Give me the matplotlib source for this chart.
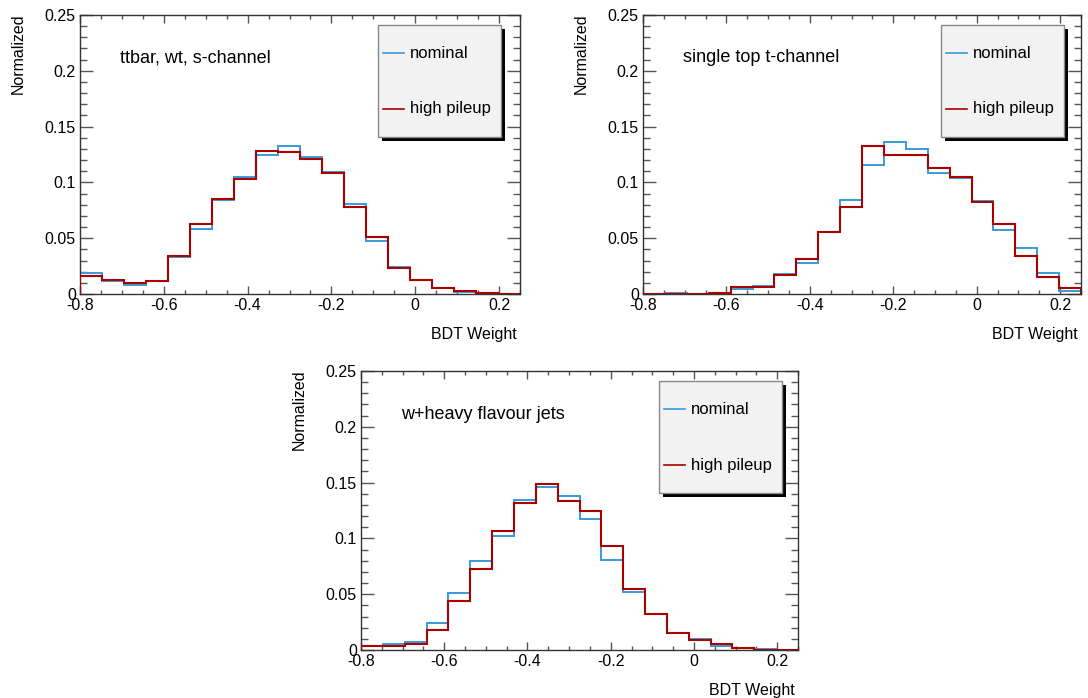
import numpy as np
import matplotlib
matplotlib.use('Agg')
import matplotlib.pyplot as plt
from matplotlib.patches import Rectangle
from matplotlib.ticker import MultipleLocator, FuncFormatter
import matplotlib.transforms as mtransforms

plt.rcParams['font.family'] = ['Liberation Sans', 'DejaVu Sans']

# ---------------- data ----------------
bin_lo, bin_hi, n_bins = -0.8, 0.25, 20

titles = ["ttbar, wt, s-channel", "single top t-channel", "w+heavy flavour jets"]
legend_labels = ["nominal", "high pileup"]

nominal_ttbar = [0.0185, 0.0119, 0.0080, 0.0116, 0.0330, 0.0580, 0.0839, 0.1050, 0.1250, 0.1330,
                 0.1230, 0.1090, 0.0807, 0.0473, 0.0238, 0.0128, 0.0050, 0.0020, 0.0000, 0.0000]
highpu_ttbar = [0.0164, 0.0128, 0.0095, 0.0119, 0.0339, 0.0628, 0.0848, 0.1033, 0.1280, 0.1274,
                0.1214, 0.1083, 0.0783, 0.0512, 0.0235, 0.0128, 0.0050, 0.0030, 0.0006, 0.0000]

nominal_tchan = [0.0000, 0.0010, 0.0000, 0.0000, 0.0045, 0.0070, 0.0180, 0.0280, 0.0557, 0.0840,
                 0.1160, 0.1360, 0.1300, 0.1086, 0.1040, 0.0830, 0.0577, 0.0408, 0.0190, 0.0024]
highpu_tchan = [0.0000, 0.0000, 0.0000, 0.0010, 0.0065, 0.0065, 0.0173, 0.0310, 0.0560, 0.0783,
                0.1327, 0.1250, 0.1250, 0.1125, 0.1048, 0.0821, 0.0628, 0.0339, 0.0149, 0.0050]

nominal_whf = [0.0036, 0.0057, 0.0075, 0.0239, 0.0511, 0.0795, 0.1020, 0.1340, 0.1464, 0.1380,
               0.1175, 0.0807, 0.0517, 0.0320, 0.0155, 0.0102, 0.0039, 0.0018, 0.0009, 0.0000]
highpu_whf = [0.0036, 0.0036, 0.0050, 0.0182, 0.0442, 0.0723, 0.1070, 0.1315, 0.1488, 0.1336,
              0.1243, 0.0930, 0.0547, 0.0320, 0.0149, 0.0093, 0.0050, 0.0020, 0.0000, 0.0000]

nominal_sets = [nominal_ttbar, nominal_tchan, nominal_whf]
highpu_sets = [highpu_ttbar, highpu_tchan, highpu_whf]

# ---------------- style ----------------
W, H = 1088, 698
BLUE = '#3a9ad9'
RED = '#aa0000'
SPINE = '#333333'
TICK = '#555555'

fig = plt.figure(figsize=(W / 100, H / 100), dpi=100)

# axes rectangles in pixels: left, right, top, bottom
boxes = [(80, 520, 15, 294), (643, 1081, 15, 294), (361, 798, 371, 650)]

edges = np.linspace(bin_lo, bin_hi, n_bins + 1)
fmt = FuncFormatter(lambda v, p: ('%g' % round(v, 4)))

for i, (l, r, t, b) in enumerate(boxes):
    ax = fig.add_axes([l / W, 1 - b / H, (r - l) / W, (b - t) / H])
    ax.stairs(nominal_sets[i], edges, baseline=0, color=BLUE, lw=1.4, zorder=2)
    ax.stairs(highpu_sets[i], edges, baseline=0, color=RED, lw=1.5, zorder=3)
    ax.set_xlim(bin_lo, bin_hi)
    ax.set_ylim(0, 0.25)

    ax.xaxis.set_major_locator(MultipleLocator(0.2))
    ax.xaxis.set_minor_locator(MultipleLocator(0.05))
    ax.yaxis.set_major_locator(MultipleLocator(0.05))
    ax.yaxis.set_minor_locator(MultipleLocator(0.01))
    ax.xaxis.set_major_formatter(fmt)
    ax.yaxis.set_major_formatter(fmt)
    ax.tick_params(axis='both', which='both', direction='in', top=True, right=True,
                   colors=TICK, labelcolor='black', labelsize=11.5, width=1)
    ax.tick_params(axis='x', which='major', length=6, pad=3)
    ax.tick_params(axis='x', which='minor', length=3)
    ax.tick_params(axis='y', which='major', length=9.5, pad=3)
    ax.tick_params(axis='y', which='minor', length=5)
    for s in ax.spines.values():
        s.set_color(SPINE)
        s.set_linewidth(1)

    wpx, hpx = r - l, b - t
    # axis titles (ROOT style)
    ax.text(-62 / wpx, 1 + 2 / hpx, 'Normalized', rotation=90, ha='center', va='top',
            fontsize=11.5, transform=ax.transAxes)
    ax.text(1 - 3 / wpx, -33 / hpx, 'BDT Weight', ha='right', va='top', fontsize=11.5,
            transform=ax.transAxes)
    # panel title
    ax.text(40 / wpx, 1 - 43 / hpx, titles[i], ha='left', va='center', fontsize=13,
            transform=ax.transAxes)

    # legend box with shadow
    x0, x1 = 298 / wpx, 421 / wpx
    yt, yb = 1 - 10 / hpx, 1 - 122 / hpx
    shadow_tr = ax.transAxes + mtransforms.ScaledTranslation(4 / 100, -4 / 100, fig.dpi_scale_trans)
    ax.add_patch(Rectangle((x0, yb), x1 - x0, yt - yb, transform=shadow_tr,
                           facecolor='black', edgecolor='black', lw=0, zorder=5, clip_on=False))
    ax.add_patch(Rectangle((x0, yb), x1 - x0, yt - yb, transform=ax.transAxes,
                           facecolor='#f2f2f2', edgecolor='#888888', lw=1, zorder=6, clip_on=False))
    for label, color, ypx in [(legend_labels[0], BLUE, 38), (legend_labels[1], RED, 94)]:
        yy = 1 - ypx / hpx
        ax.plot([303 / wpx, 324 / wpx], [yy, yy], color=color, lw=1.2,
                transform=ax.transAxes, zorder=7, clip_on=False)
        ax.text(330 / wpx, yy, label, ha='left', va='center', fontsize=12,
                transform=ax.transAxes, zorder=7)

fig.savefig('out.png', dpi=100)
